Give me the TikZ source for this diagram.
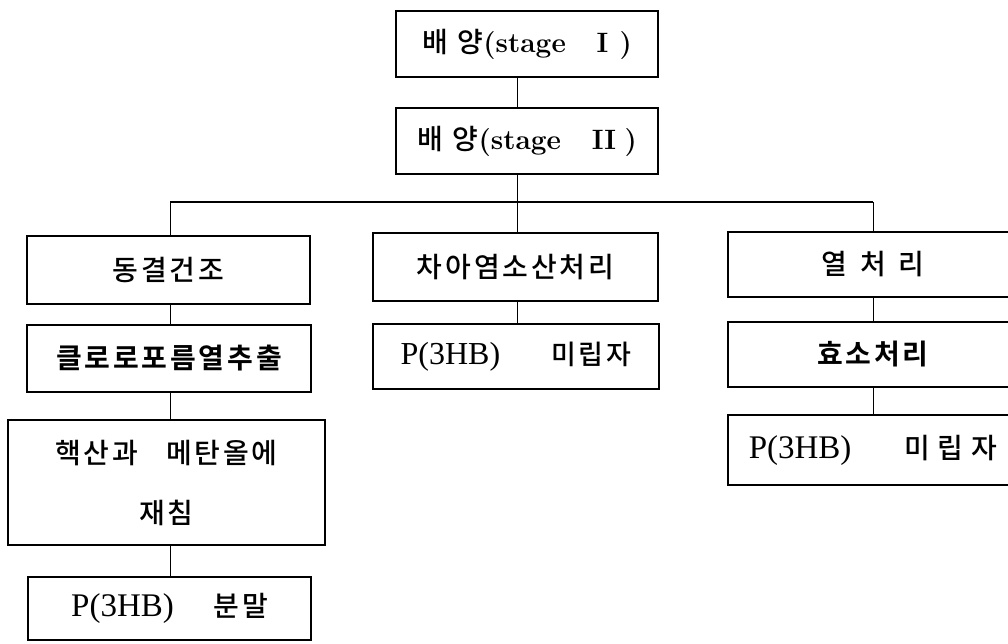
\documentclass[tikz,border=0pt]{standalone}
\usepackage{fontspec}
\setmainfont{Liberation Serif}
\newfontfamily\kr{Noto Sans CJK KR}[UprightFont={* Medium},BoldFont={* Bold},LetterSpace=10]
\newfontfamily\krw{Noto Sans CJK KR}[UprightFont={* Medium},BoldFont={* Bold},LetterSpace=28]
\newfontfamily\lmr{Latin Modern Roman}
\begin{document}
\begin{tikzpicture}[x=1pt,y=-1pt,
  box/.style={draw, line width=1.4pt, inner sep=0pt, align=center,
    font=\fontsize{28}{34}\selectfont},
  conn/.style={line width=1pt},
  bus/.style={line width=1.6pt}]
\useasboundingbox[fill=white] (0,0) rectangle (1008,643);
% top
\node[box, minimum width=262pt, minimum height=66pt] (b1) at (527,44)
  {{\kr 배\hspace{0.35em}양}{\lmr\bfseries(stage\hspace{1.1em}I\hspace{0.4em})}};
\node[box, minimum width=262pt, minimum height=66pt] (b2) at (527,141)
  {{\kr 배\hspace{0.35em}양}{\lmr\bfseries(stage\hspace{1.1em}II\hspace{0.3em})}};
\coordinate (jm) at (517,202);
\coordinate (jl) at (170,202);
\coordinate (jr) at (873,202);
% left column
\node[box, minimum width=283pt, minimum height=68pt] (l1) at (168.5,270) {\kr 동결건조};
\node[box, minimum width=284pt, minimum height=67pt] (l2) at (169,358.5) {\kr\bfseries 클로로포름열추출};
\node[box, minimum width=317pt, minimum height=125pt,
  font=\fontsize{28}{60}\selectfont] (l3) at (166.5,482.5) {\kr 핵산과\hspace{1em}메탄올에\\\kr 재침};
\node[box, minimum width=283pt, minimum height=63pt] (l4) at (169.5,608.5)
  {\fontsize{33}{38}\selectfont P(3HB)\hspace{1.2em}{\kr\fontsize{28}{34}\selectfont 분말}};
% middle column
\node[box, minimum width=285pt, minimum height=68pt] (m1) at (515.5,267) {\kr 차아염소산처리};
\node[box, minimum width=286pt, minimum height=65pt] (m2) at (516,356.5)
  {\fontsize{32}{38}\selectfont P(3HB)\hspace{1.6em}{\kr\fontsize{27}{34}\selectfont 미립자}};
% right column
\node[box, minimum width=290pt, minimum height=65pt] (r1) at (873,264.5)
  {\kr 열\hspace{0.45em}처\hspace{0.45em}리};
\node[box, minimum width=290pt, minimum height=65pt] (r2) at (873,354.5) {\kr\bfseries 효소처리};
\node[box, minimum width=290pt, minimum height=70pt] (r3) at (873,450)
  {\fontsize{33}{38}\selectfont P(3HB)\hspace{1.6em}{\krw\fontsize{28}{34}\selectfont 미립자}};
% connectors
\draw[conn] (b1.south -| jm) -- (b2.north -| jm);
\draw[conn] (b2.south -| jm) -- (jm);
\draw[bus] (jl) -- (jr);
\draw[conn] (jl) -- (l1.north -| jl);
\draw[conn] (jm) -- (m1.north -| jm);
\draw[conn] (jr) -- (r1.north -| jr);
\draw[conn] (l1.south -| jl) -- (l2.north -| jl);
\draw[conn] (l2.south -| jl) -- (l3.north -| jl);
\draw[conn] (l3.south -| jl) -- (l4.north -| jl);
\draw[conn] (m1.south -| jm) -- (m2.north -| jm);
\draw[conn] (r1.south -| jr) -- (r2.north -| jr);
\draw[conn] (r2.south -| jr) -- (r3.north -| jr);
\end{tikzpicture}
\end{document}
